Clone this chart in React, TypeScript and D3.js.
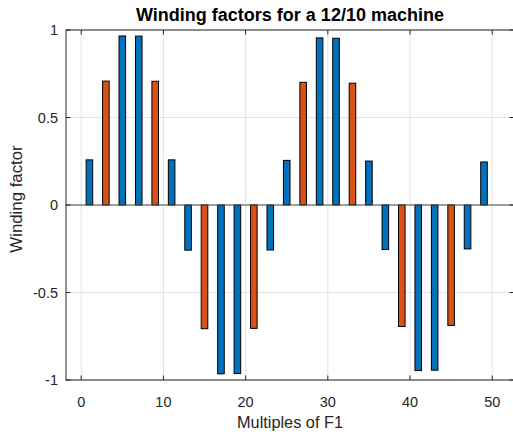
import React from "react";
import * as d3 from "d3";

const harmonics = [1, 3, 5, 7, 9, 11, 13, 15, 17, 19, 21, 23, 25, 27, 29, 31, 33, 35, 37, 39, 41, 43, 45, 47, 49];
const windingFactors = [
  0.258, 0.708, 0.966, 0.965, 0.707, 0.258,
  -0.258, -0.707, -0.965, -0.963, -0.705, -0.257,
  0.255, 0.701, 0.955, 0.953, 0.696, 0.251,
  -0.254, -0.694, -0.946, -0.944, -0.688, -0.251,
  0.246,
];
const xTicks = [0, 10, 20, 30, 40, 50];
const yTicks = [-1, -0.5, 0, 0.5, 1];
const yTickLabels = ["-1", "-0.5", "0", "0.5", "1"];

const W = 513;
const H = 437;
const left = 66;
const right = 514;
const top = 30;
const bottom = 380;

const BLUE = "#0072BD";
const ORANGE = "#D95319";
const AX = "#262626";
const FONT = "'Liberation Sans', Arial, Helvetica, sans-serif";

export default function App() {
  const x = d3.scaleLinear().domain([-1.85, 52.65]).range([left, right]);
  const y = d3.scaleLinear().domain([-1, 1]).range([bottom, top]);
  const bw = x(0.8) - x(0);

  return (
    <svg
      width={W}
      height={H}
      style={{ position: "absolute", left: 0, top: 0, background: "#fff" }}
    >
      <rect x={0} y={0} width={W} height={H} fill="#fff" />
      {/* grid */}
      {xTicks.map((t) => (
        <line key={"gx" + t} x1={x(t)} x2={x(t)} y1={top} y2={bottom} stroke="#e3e3e3" strokeWidth={1} />
      ))}
      {yTicks.map((t) => (
        <line key={"gy" + t} x1={left} x2={right} y1={y(t)} y2={y(t)} stroke="#e3e3e3" strokeWidth={1} />
      ))}
      {/* bars */}
      {harmonics.map((h, i) => {
        const v = windingFactors[i];
        const y0 = y(0);
        const y1 = y(v);
        return (
          <rect
            key={"b" + h}
            x={x(h) - bw / 2}
            y={Math.min(y0, y1)}
            width={bw}
            height={Math.abs(y1 - y0)}
            fill={h % 3 === 0 ? ORANGE : BLUE}
            stroke="#000"
            strokeWidth={1}
          />
        );
      })}
      {/* baseline */}
      <line x1={left} x2={right} y1={y(0)} y2={y(0)} stroke="#4d4d4d" strokeWidth={1} />
      {/* axes box */}
      <rect x={left} y={top} width={right - left} height={bottom - top} fill="none" stroke={AX} strokeWidth={1} />
      {/* ticks */}
      {xTicks.map((t) => (
        <g key={"tx" + t}>
          <line x1={x(t)} x2={x(t)} y1={bottom} y2={bottom - 4.5} stroke={AX} />
          <line x1={x(t)} x2={x(t)} y1={top} y2={top + 4.5} stroke={AX} />
          <text x={x(t)} y={407} textAnchor="middle" fontFamily={FONT} fontSize={14.5} fill={AX}>
            {t}
          </text>
        </g>
      ))}
      {yTicks.map((t, i) => (
        <g key={"ty" + t}>
          <line x1={left} x2={left + 4.5} y1={y(t)} y2={y(t)} stroke={AX} />
          <line x1={right} x2={right - 4.5} y1={y(t)} y2={y(t)} stroke={AX} />
          <text x={58} y={y(t) + 5} textAnchor="end" fontFamily={FONT} fontSize={14.5} fill={AX}>
            {yTickLabels[i]}
          </text>
        </g>
      ))}
      {/* labels */}
      <text x={(left + right) / 2} y={428} textAnchor="middle" fontFamily={FONT} fontSize={16.3} fill={AX}>
        Multiples of F1
      </text>
      <text
        transform={`translate(22, ${(top + bottom) / 2 - 6}) rotate(-90)`}
        textAnchor="middle"
        fontFamily={FONT}
        fontSize={16.8}
        fill={AX}
      >
        Winding factor
      </text>
      <text
        x={(left + right) / 2}
        y={21}
        textAnchor="middle"
        fontFamily={FONT}
        fontSize={18}
        fontWeight="bold"
        fill="#000"
      >
        Winding factors for a 12/10 machine
      </text>
    </svg>
  );
}
